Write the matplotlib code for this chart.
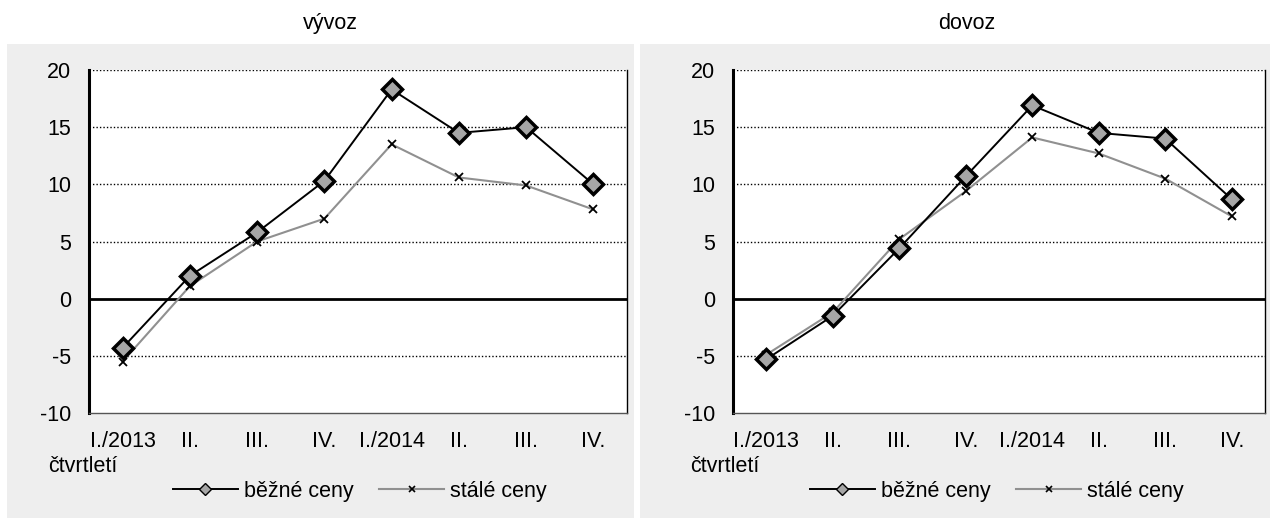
import matplotlib
matplotlib.use("Agg")
import matplotlib.pyplot as plt
from matplotlib.patches import Rectangle
from matplotlib.lines import Line2D

plt.rcParams['font.family'] = ['Liberation Sans', 'DejaVu Sans']
plt.rcParams['axes.unicode_minus'] = False

quarters = ["I./2013", "II.", "III.", "IV.", "I./2014", "II.", "III.", "IV."]
vyvoz_bezne = [-4.3, 2.0, 5.8, 10.3, 18.3, 14.5, 15.0, 10.0]
vyvoz_stale = [-5.5, 1.1, 5.0, 7.0, 13.5, 10.6, 9.9, 7.8]
dovoz_bezne = [-5.3, -1.5, 4.4, 10.7, 16.9, 14.5, 14.0, 8.7]
dovoz_stale = [-4.9, -1.2, 5.2, 9.4, 14.1, 12.7, 10.5, 7.2]
yticks = [-10, -5, 0, 5, 10, 15, 20]

W, H = 1275, 522
FS = 15.5
fig = plt.figure(figsize=(W / 100, H / 100), dpi=100)
fig.patch.set_facecolor("white")

# gray panels behind each chart
for x0, x1 in [(7, 634), (640, 1270)]:
    fig.patches.append(Rectangle((x0 / W, 1 - 518 / H), (x1 - x0) / W, (518 - 44) / H,
                                 transform=fig.transFigure, facecolor="#eeeeee",
                                 edgecolor="none", zorder=-10))

panels = [
    ("vývoz", vyvoz_bezne, vyvoz_stale, [89, 627], 330, 48),
    ("dovoz", dovoz_bezne, dovoz_stale, [733, 1265], 967, 690),
]

for title, bezne, stale, (xl, xr), tx, cx in panels:
    ax = fig.add_axes([xl / W, 1 - 413 / H, (xr - xl) / W, (413 - 70) / H])
    ax.set_facecolor("white")
    x = list(range(len(quarters)))
    for yv in [-5, 5, 10, 15, 20]:
        ax.axhline(yv, color="black", lw=1, ls=(0, (1, 1.5)), zorder=1)
    ax.axhline(0, color="black", lw=2, zorder=2)
    ax.plot(x, stale, color="#909090", lw=1.5, marker="x", ms=6, mec="black",
            mew=1.3, zorder=3)
    ax.plot(x, bezne, color="black", lw=1.4, marker="D", ms=10, mfc="#a6a6a6",
            mec="black", mew=2.5, zorder=4)
    ax.set_xlim(-0.5, len(quarters) - 0.5)
    ax.set_ylim(-10, 20)
    ax.set_yticks(yticks)
    ax.set_xticks(x)
    ax.set_xticklabels(quarters)
    ax.tick_params(length=0, labelsize=FS, pad=13)
    ax.tick_params(axis="y", pad=13)
    ax.spines["top"].set_visible(False)
    ax.spines["left"].set_linewidth(2.2)
    ax.spines["right"].set_linewidth(1)
    ax.spines["bottom"].set_linewidth(1)
    ax.spines["bottom"].set_color("#555555")

    fig.text(tx / W, 1 - 24 / H, title, ha="center", va="center", fontsize=FS)
    fig.text(cx / W, 1 - 466 / H, "čtvrtletí", ha="left", va="center", fontsize=FS)

    handles = [
        Line2D([], [], color="black", lw=1.4, marker="D", ms=6, mfc="#a6a6a6",
               mec="black", mew=1),
        Line2D([], [], color="#909090", lw=1.5, marker="x", ms=5, mec="black", mew=1.2),
    ]
    fig.legend(handles, ["běžné ceny", "stálé ceny"], loc="center",
               bbox_to_anchor=((tx + 30) / W, 1 - 491 / H), ncol=2, frameon=False,
               fontsize=FS, handlelength=3.0, handletextpad=0.3, columnspacing=1.2)

fig.savefig("out.png", dpi=100)
